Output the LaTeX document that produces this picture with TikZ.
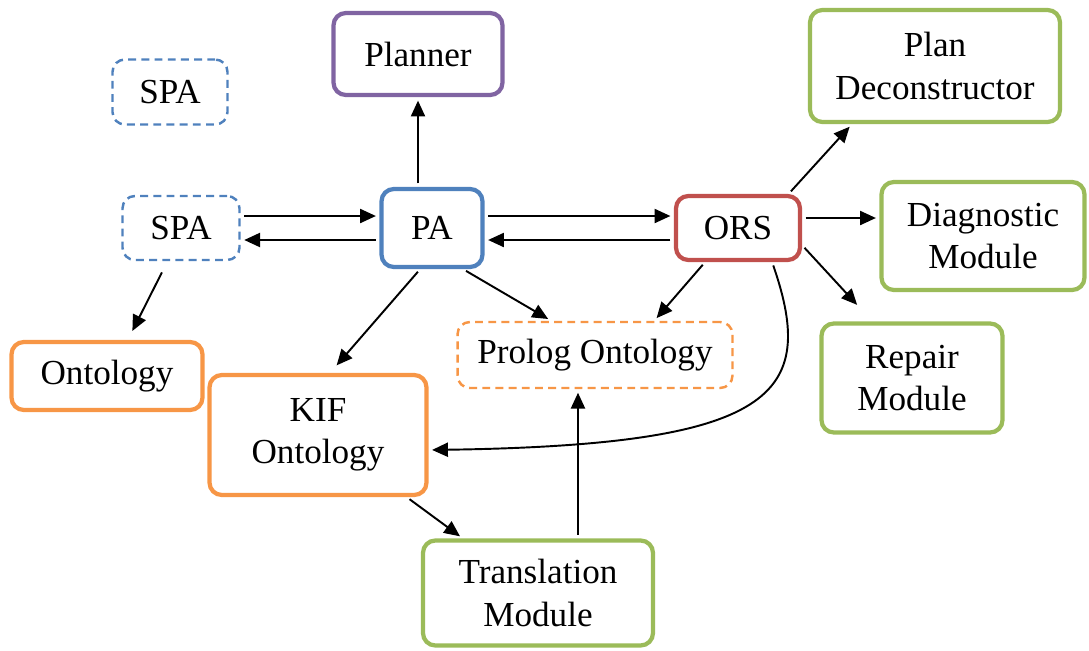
\documentclass[tikz,border=0pt]{standalone}
\usepackage{fontspec}
\setmainfont{Liberation Serif}
\usetikzlibrary{arrows.meta}
\definecolor{oblue}{RGB}{79,129,189}
\definecolor{ored}{RGB}{192,80,77}
\definecolor{ogreen}{RGB}{155,187,89}
\definecolor{opurple}{RGB}{128,100,162}
\definecolor{oorange}{RGB}{247,150,70}
\tikzset{
    box/.style = {rectangle, rounded corners=7pt, line width=2.4pt, align=center, fill=white, inner sep=2pt, font=\fontsize{20}{24}\selectfont},
    boxb/.style = {box, draw=oblue},
    boxr/.style = {box, draw=ored},
    boxg/.style = {box, draw=ogreen},
    boxp/.style = {box, draw=opurple},
    boxo/.style = {box, draw=oorange},
    boxbd/.style = {box, draw=oblue, line width=1.4pt, dash pattern=on 4.5pt off 3pt}, % sub agent
    boxod/.style = {box, draw=oorange, line width=1.4pt, dash pattern=on 4.5pt off 3pt},
    edgen/.style = {-{Triangle[length=9pt,width=8pt]}, line width=1.1pt, shorten <=2pt, shorten >=2pt},
}

\begin{document}
\begin{tikzpicture}[x=0.02cm, y=-0.02cm]
\useasboundingbox (0,0) rectangle (1089,650);
\node[boxbd, minimum width=2.3cm, minimum height=1.3cm] at (170,92) (spa1) {SPA};
\node[boxp, minimum width=3.38cm, minimum height=1.64cm] at (418,54) (planner) {Planner};
\node[boxg, minimum width=5.0cm, minimum height=2.24cm] at (935,66) (plan) {Plan\\Deconstructor};
\node[boxbd, minimum width=2.34cm, minimum height=1.28cm] at (181,228) (spa2) {SPA};
\node[boxb, minimum width=2.02cm, minimum height=1.56cm] at (432,228) (pa) {PA};
\node[boxr, minimum width=2.48cm, minimum height=1.28cm] at (738,228) (ors) {ORS};
\node[boxg, minimum width=4.06cm, minimum height=2.16cm] at (983,236) (diag) {Diagnostic\\Module};
\node[boxo, minimum width=3.82cm, minimum height=1.36cm] at (107,376) (onto) {Ontology};
\node[boxod, minimum width=5.5cm, minimum height=1.32cm] at (595,355) (prolog) {Prolog Ontology};
\node[boxg, minimum width=3.62cm, minimum height=2.18cm] at (912,378) (repair) {Repair\\Module};
\node[boxo, minimum width=4.34cm, minimum height=2.4cm] at (318,435) (kif) {KIF\\Ontology};
\node[boxg, minimum width=4.6cm, minimum height=2.1cm] at (538,593) (trans) {Translation\\Module};
%
\draw[edgen] (pa.north -| planner.south) -- (planner.south);
\draw[edgen] ([yshift=0.24cm]spa2.east) -- ([yshift=0.24cm]pa.west);
\draw[edgen] ([yshift=-0.24cm]pa.west) -- ([yshift=-0.24cm]spa2.east);
\draw[edgen] ([yshift=0.24cm]pa.east) -- ([yshift=0.24cm]ors.west);
\draw[edgen] ([yshift=-0.24cm]ors.west) -- ([yshift=-0.24cm]pa.east);
\draw[edgen] (ors.34) -- (plan.215);
\draw[edgen] ([yshift=0.2cm]ors.east) -- ([yshift=0.2cm]ors.east -| diag.west);
\draw[edgen, shorten >=0.45cm] (ors.-15) -- (repair.125);
\draw[edgen] (ors.-134) -- (prolog.30);
\draw[edgen] (pa.-53) -- (prolog.142);
\draw[edgen, shorten >=0.2cm] (pa.-106) -- (kif.79);
\draw[edgen, shorten <=0.25cm, shorten >=0.2cm] (spa2.-112) -- (onto.60);
\draw[edgen] (kif.-35) -- (trans.144);
\draw[edgen] ([xshift=0.8cm]trans.north) -- ([xshift=0.8cm]trans.north |- prolog.south);
\draw[edgen] (ors.-45) .. controls (818,395) and (775,445) .. ([yshift=-0.3cm]kif.east);

\end{tikzpicture}
\end{document}
